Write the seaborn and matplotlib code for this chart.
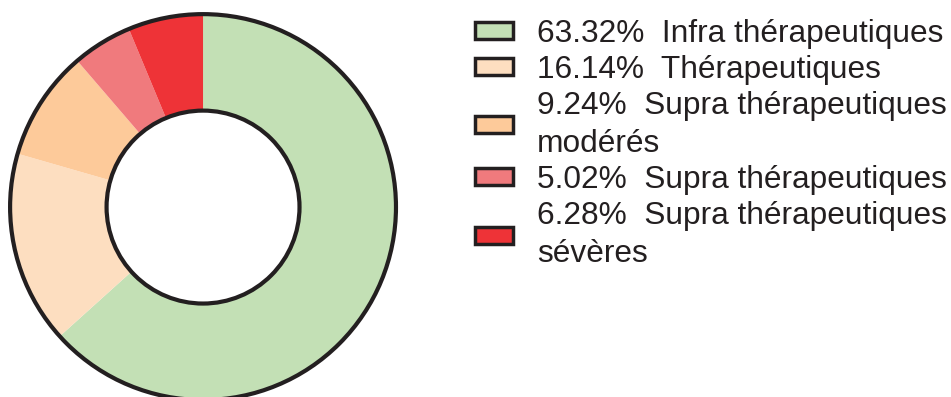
import matplotlib
matplotlib.use("Agg")
import matplotlib.pyplot as plt
from matplotlib.patches import Patch, Circle
import seaborn as sns

# Share of measurements per therapeutic range
categories = [
    "Infra thérapeutiques",
    "Thérapeutiques",
    "Supra thérapeutiques\nmodérés",
    "Supra thérapeutiques",
    "Supra thérapeutiques\nsévères",
]
percentages = [63.32, 16.14, 9.24, 5.02, 6.28]
colors = ["#C3E0B5", "#FDDEC0", "#FDCA9A", "#F07A7D", "#EE3337"]

sns.set_theme(style="white")
plt.rcParams["font.family"] = ["Liberation Sans", "DejaVu Sans"]

palette = sns.color_palette(colors)
fig = plt.figure(figsize=(9.51, 3.97), dpi=100)
ax = fig.add_axes([0.0105, -0.0076, 0.406, 0.972])

ring_width = 0.5
wedges, _ = ax.pie(
    percentages,
    colors=palette,
    startangle=90,
    counterclock=False,
    radius=1.0,
    wedgeprops=dict(width=ring_width, linewidth=0),
)
# Black outline on the outer and inner edges of the ring
for r in (1.0, 1.0 - ring_width):
    ax.add_patch(Circle((0, 0), r, fill=False, edgecolor="#231F20",
                        linewidth=3, clip_on=False))
ax.set_xlim(-1, 1)
ax.set_ylim(-1, 1)
ax.set_aspect("equal")
ax.axis("off")

labels = [f"{p:.2f}%  {c}" for p, c in zip(percentages, categories)]
handles = [Patch(facecolor=col, edgecolor="#231F20", linewidth=2.5) for col in palette]
leg = fig.legend(
    handles, labels,
    loc="upper left",
    bbox_to_anchor=(0.499, 0.953),
    frameon=False,
    fontsize=22.8,
    handlelength=1.2,
    handleheight=0.45,
    handletextpad=0.78,
    labelspacing=0.19,
    borderpad=0,
    borderaxespad=0,
    labelcolor="#231F20",
)
for t in leg.get_texts():
    t.set_linespacing(1.35)

fig.savefig("out.png", dpi=100)
